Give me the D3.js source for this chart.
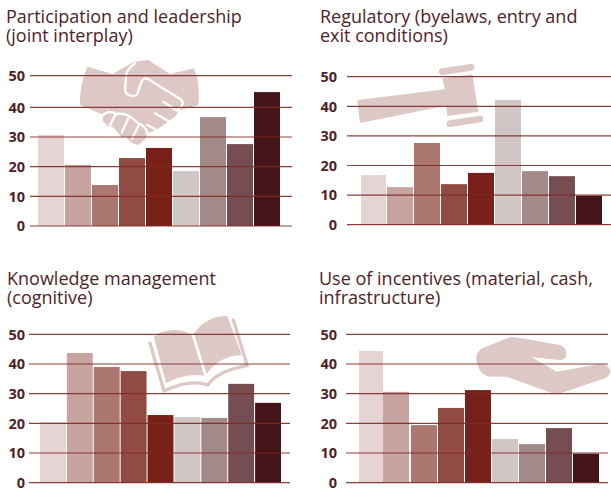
<!DOCTYPE html>
<html>
<head>
<meta charset="utf-8">
<script src="https://cdn.jsdelivr.net/npm/d3@7/dist/d3.min.js"></script>
<style>
html, body { margin: 0; padding: 0; background: #fff; }
svg { display: block; }
text { font-family: "Open Sans", sans-serif; }
</style>
</head>
<body>
<div id="chart"></div>
<script>
var width = 611,
    height = 491,
    textColor = '#4f2327',
    lineColor = '#7e2a26',
    iconColor = '#dec8c6';

var groups = ['a', 'b', 'c', 'd', 'e', 'f', 'g', 'h', 'i'],
    barColors = ['#e5d4d3', '#c8a4a0', '#ac7671', '#904b45', '#782118',
                 '#d1c5c5', '#a38a89', '#764e51', '#441518'],
    ticks = [0, 10, 20, 30, 40, 50];

var participation = [30.7, 20.6, 13.8, 22.9, 26.3, 18.5, 36.7, 27.6, 44.8],
    regulatory = [16.8, 12.7, 27.6, 13.7, 17.5, 42.1, 18.1, 16.4, 9.8],
    knowledge = [20.4, 43.7, 39, 37.6, 22.8, 22.1, 21.8, 33.3, 26.9],
    incentives = [44.4, 30.6, 19.4, 25.2, 31.2, 14.7, 13, 18.4, 9.8];

// pictograms, traced at 3x and scaled back down in iconAt()
var handshake = 'M52,50L128,72L190,36L235,30L300,72L372,55C385,85 390,125 385,165L325,182L318,198L298,212L280,226L258,240L232,250L226,268L205,285L188,280L165,260L155,262L130,232L112,228L98,212L100,195L30,165C28,125 38,85 52,50Z';
var handshakeCuts = [
    'M195,40C180,50 170,62 168,78L165,120C167,135 185,142 200,135C208,120 210,100 218,90C222,84 228,84 235,88L332,148C342,156 340,168 325,178',
    'M280,155L322,182',
    'M255,190L300,216',
    'M232,225L264,242',
    'M98,196C110,184 125,184 140,192C160,188 185,200 205,220C220,225 230,238 232,250',
    'M137,192L120,226',
    'M175,205L155,248',
    'M207,224L186,266'
];
var gavelHead = 'M37,135L300,103L291,70L382,58L400,170L307,183L303,152L45,204Z',
    gavelTop = 'M292,50L378,37',
    gavelBottom = 'M315,206L405,192';
var bookLeft = 'M42,97C60,75 120,65 155,90L193,212C160,205 110,215 78,235Z',
    bookRight = 'M162,85C190,45 230,30 262,33L305,150C260,150 220,175 200,208Z',
    bookBase = 'M30,115L72,258C110,240 160,225 203,240C230,205 270,190 322,182L280,45';
var hand = 'M35,110C30,90 40,75 55,68L130,38C140,35 150,36 160,38L285,60C310,68 312,105 285,105L200,97L275,140L400,118C435,115 450,145 420,160L300,200C280,208 265,205 250,200L125,155L80,155C55,155 40,135 35,110Z';

var svg = d3.select('#chart').append('svg')
    .attr('width', width)
    .attr('height', height);

// the 50 line of the first panel sits a little higher than the even spacing
var y1 = d3.scaleLinear().domain([0, 40, 50]).range([226, 107.3, 75.6]),
    y2 = d3.scaleLinear().domain([0, 50]).range([224.7, 76.7]),
    y3 = d3.scaleLinear().domain([0, 50]).range([482.7, 334.3]);

function iconAt(g, ox, oy) {
    return g.append('g').attr('transform', 'translate(' + ox + ',' + oy + ') scale(' + (1 / 3) + ')');
}

function fillPath(g, d) {
    g.append('path').attr('d', d).attr('fill', iconColor);
}

function strokePath(g, d, w, color) {
    g.append('path').attr('d', d)
        .attr('fill', 'none')
        .attr('stroke', color)
        .attr('stroke-width', w)
        .attr('stroke-linecap', 'round')
        .attr('stroke-linejoin', 'round');
}

function drawPanel(o) {
    var g = svg.append('g'),
        x = d3.scaleBand().domain(groups)
            .range([o.barStart, o.barEnd]).paddingInner(1 / 27).paddingOuter(0),
        title = g.append('text')
            .attr('fill', textColor)
            .style('font-size', '18px');

    o.title.forEach(function(t, i) {
        title.append('tspan')
            .attr('x', o.titleX)
            .attr('y', o.titleY + i * 19.2)
            .text(t);
    });

    o.icon(g);

    g.selectAll('rect.bar')
        .data(o.values)
        .enter().append('rect')
        .attr('class', 'bar')
        .attr('x', function(d, i) {
            return x(groups[i]) + (o.nudge && o.nudge[i] ? o.nudge[i][0] : 0);
        })
        .attr('y', function(d) { return o.y(d); })
        .attr('width', function(d, i) {
            return x.bandwidth() + (o.nudge && o.nudge[i] ? o.nudge[i][1] : 0);
        })
        .attr('height', function(d) { return o.y(0) - o.y(d); })
        .attr('fill', function(d, i) { return barColors[i]; });

    g.selectAll('line.grid')
        .data(ticks)
        .enter().append('line')
        .attr('class', 'grid')
        .attr('x1', o.lineStart)
        .attr('x2', o.lineEnd)
        .attr('y1', function(d) { return o.y(d); })
        .attr('y2', function(d) { return o.y(d); })
        .attr('stroke', lineColor)
        .attr('stroke-opacity', 0.9)
        .attr('stroke-width', 1.2);

    g.selectAll('text.tick')
        .data(ticks)
        .enter().append('text')
        .attr('class', 'tick')
        .attr('x', o.tickX)
        .attr('y', function(d) { return o.y(d) + 5.2; })
        .attr('text-anchor', 'end')
        .attr('fill', textColor)
        .style('font-size', '14.5px')
        .style('font-weight', 700)
        .text(function(d) { return d; });
}

drawPanel({
    title: ['Participation and leadership', '(joint interplay)'],
    titleX: 6, titleY: 23,
    values: participation,
    y: y1,
    barStart: 38, barEnd: 280, lineStart: 30, lineEnd: 292, tickX: 25,
    icon: function(g) {
        var ic = iconAt(g, 70, 50);
        fillPath(ic, handshake);
        handshakeCuts.forEach(function(d) { strokePath(ic, d, 7, '#fff'); });
    }
});

drawPanel({
    title: ['Regulatory (byelaws, entry and', 'exit conditions)'],
    titleX: 320, titleY: 23,
    values: regulatory,
    y: y2,
    barStart: 360, barEnd: 602, lineStart: 347, lineEnd: 611, tickX: 337,
    nudge: {0: [1, -1]},
    icon: function(g) {
        var ic = iconAt(g, 345, 55);
        fillPath(ic, gavelHead);
        strokePath(ic, gavelTop, 20, iconColor);
        strokePath(ic, gavelBottom, 20, iconColor);
    }
});

drawPanel({
    title: ['Knowledge management', '(cognitive)'],
    titleX: 7, titleY: 285,
    values: knowledge,
    y: y3,
    barStart: 40, barEnd: 281, lineStart: 29, lineEnd: 290, tickX: 25,
    icon: function(g) {
        var ic = iconAt(g, 140, 305);
        fillPath(ic, bookLeft);
        fillPath(ic, bookRight);
        strokePath(ic, bookBase, 10, iconColor);
    }
});

drawPanel({
    title: ['Use of incentives (material, cash,', 'infrastructure)'],
    titleX: 319, titleY: 285,
    values: incentives,
    y: y3,
    barStart: 357, barEnd: 599, lineStart: 346, lineEnd: 608, tickX: 337,
    nudge: {0: [2, -2], 1: [-1, 0]},
    icon: function(g) {
        fillPath(iconAt(g, 465, 325), hand);
    }
});
</script>
</body>
</html>
